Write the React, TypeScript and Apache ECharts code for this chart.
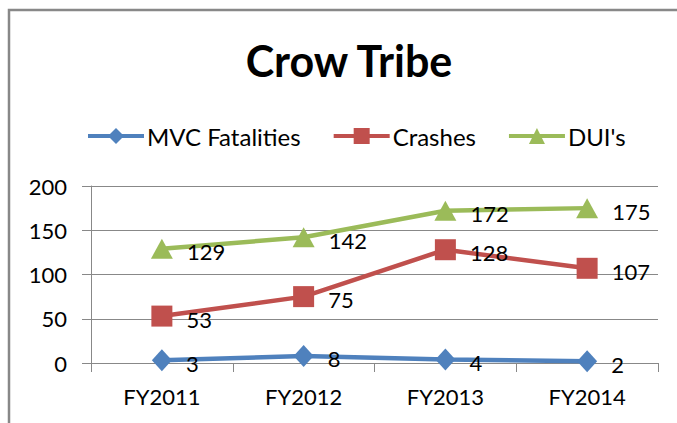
import React, { useEffect, useRef } from "react";
import * as echarts from "echarts";

const categories = ["FY2011", "FY2012", "FY2013", "FY2014"];
const mvcFatalities = [3, 8, 4, 2];
const crashes = [53, 75, 128, 107];
const duis = [129, 142, 172, 175];
const yTicks = { min: 0, max: 200, interval: 50 };

const FONT = "Lato, 'Open Sans', sans-serif";

export default function App() {
  const ref = useRef<HTMLDivElement>(null);
  useEffect(() => {
    if (!ref.current) return;
    const chart = echarts.init(ref.current, undefined, { renderer: "svg" });
    const label = {
      show: true,
      position: "right" as const,
      distance: 14,
      offset: [0, 3],
      color: "#000",
      fontSize: 22,
      fontFamily: FONT,
    };
    chart.setOption({
      animation: false,
      backgroundColor: "#fff",
      title: {
        text: "Crow Tribe",
        left: 344,
        textAlign: "center",
        top: 34,
        textStyle: { fontSize: 43, fontWeight: "bold", color: "#000", fontFamily: FONT },
      },
      legend: {
        top: 119,
        left: 81,
        itemWidth: 56,
        itemHeight: 20,
        itemGap: 31,
        lineStyle: { width: 4 },
        textStyle: { fontSize: 24, color: "#000", fontFamily: FONT, padding: [0, 0, 0, -2] },
        data: ["MVC Fatalities", "Crashes", "DUI's"],
      },
      graphic: [
        {
          type: "rect",
          shape: { x: 9, y: 10, width: 720, height: 500 },
          style: { fill: "none", stroke: "#888", lineWidth: 2.5 },
          silent: true,
        },
      ],
      grid: { left: 91, right: 19, top: 186, bottom: 60, containLabel: false },
      xAxis: {
        type: "category",
        data: categories,
        boundaryGap: true,
        axisLine: { show: true, lineStyle: { color: "#888", width: 1 } },
        axisTick: { show: true, length: 9, lineStyle: { color: "#888" }, alignWithLabel: false },
        axisLabel: { color: "#000", fontSize: 22, fontFamily: FONT, margin: 22 },
      },
      yAxis: {
        type: "value",
        min: yTicks.min,
        max: yTicks.max,
        interval: yTicks.interval,
        axisLine: { show: true, lineStyle: { color: "#888", width: 1 } },
        axisTick: { show: true, length: 9, lineStyle: { color: "#888" } },
        splitLine: { show: true, lineStyle: { color: "#888", width: 1 } },
        axisLabel: { color: "#000", fontSize: 22, fontFamily: FONT, margin: 24 },
      },
      series: [
        {
          name: "MVC Fatalities",
          type: "line",
          data: mvcFatalities,
          symbol: "diamond",
          symbolSize: [20, 22],
          color: "#4F81BD",
          lineStyle: { width: 4.5, color: "#4F81BD" },
          itemStyle: { color: "#4F81BD" },
          label,
          z: 3,
        },
        {
          name: "Crashes",
          type: "line",
          data: crashes,
          symbol: "rect",
          symbolSize: 21,
          color: "#C0504D",
          lineStyle: { width: 4.5, color: "#C0504D" },
          itemStyle: { color: "#C0504D" },
          label,
          z: 3,
        },
        {
          name: "DUI's",
          type: "line",
          data: duis,
          symbol: "triangle",
          symbolSize: [22, 20],
          color: "#9BBB59",
          lineStyle: { width: 4.5, color: "#9BBB59" },
          itemStyle: { color: "#9BBB59" },
          label,
          z: 3,
        },
      ],
    });
    return () => chart.dispose();
  }, []);
  return (
    <div
      ref={ref}
      style={{ position: "absolute", left: 0, top: 0, width: 677, height: 423 }}
    />
  );
}
